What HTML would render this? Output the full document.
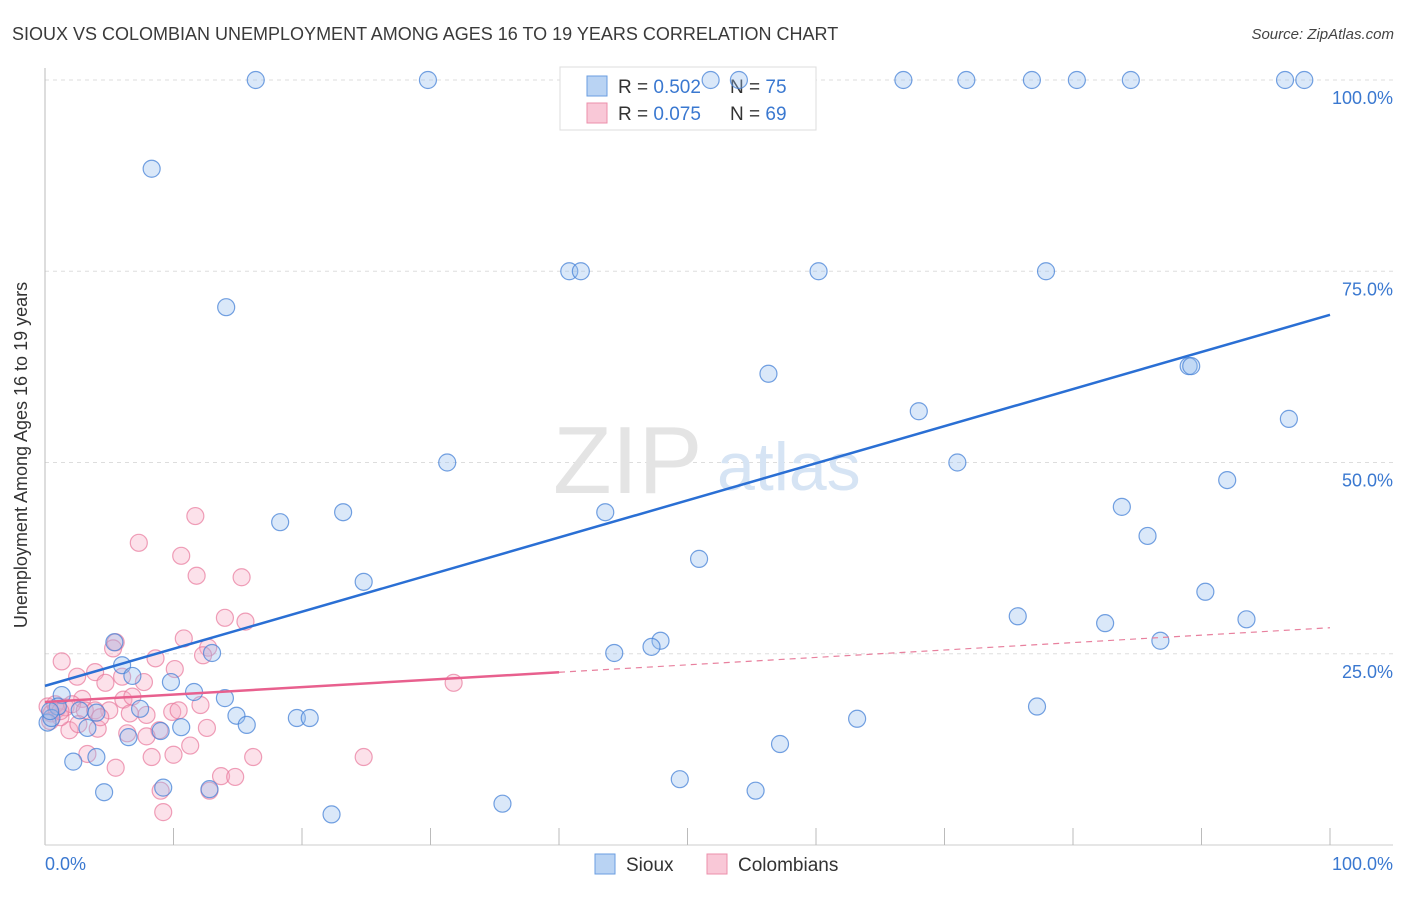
<!DOCTYPE html>
<html><head><meta charset="utf-8"><style>
body{margin:0;background:#fff;font-family:"Liberation Sans",sans-serif}
svg text{font-family:"Liberation Sans",sans-serif}
</style></head><body>
<svg width="1406" height="892" viewBox="0 0 1406 892">
<text x="12" y="40" font-size="18" fill="#3a3a3a">SIOUX VS COLOMBIAN UNEMPLOYMENT AMONG AGES 16 TO 19 YEARS CORRELATION CHART</text>
<text x="1394" y="39" font-size="15" fill="#444" font-style="italic" text-anchor="end">Source: ZipAtlas.com</text>
<g id="grid"></g>
<text x="553" y="493" font-size="96" fill="#e4e4e4" font-family="Liberation Serif">ZIP</text>
<text x="717" y="490" font-size="68" fill="#d6e4f4">atlas</text>
<line x1="45" y1="68" x2="45" y2="845" stroke="#bbb"/>
<line x1="45" y1="845" x2="1393" y2="845" stroke="#ccc"/>
<g id="ticks"></g>
<g>
<rect x="560" y="67" width="256" height="63" fill="#fff" stroke="#ddd"/>
<rect x="587" y="76" width="20" height="20" fill="#b9d3f3" stroke="#6a9ee0"/>
<rect x="587" y="103" width="20" height="20" fill="#f9c8d7" stroke="#ec8fab"/>
<text x="618" y="93" font-size="19" fill="#333">R = <tspan fill="#3a78d0">0.502</tspan></text>
<text x="730" y="93" font-size="19" fill="#333">N = <tspan fill="#3a78d0">75</tspan></text>
<text x="618" y="120" font-size="19" fill="#333">R = <tspan fill="#3a78d0">0.075</tspan></text>
<text x="730" y="120" font-size="19" fill="#333">N = <tspan fill="#3a78d0">69</tspan></text>
</g>
<g id="pts"></g>
<g id="trends"></g>
<text x="27" y="455" font-size="18" fill="#333" text-anchor="middle" transform="rotate(-90 27 455)">Unemployment Among Ages 16 to 19 years</text>
<text x="45" y="870" font-size="18" fill="#3a78d0">0.0%</text>
<text x="1393" y="870" font-size="18" fill="#3a78d0" text-anchor="end">100.0%</text>
<g>
<rect x="595" y="854" width="20" height="20" fill="#b9d3f3" stroke="#6a9ee0"/>
<text x="626" y="871" font-size="19" fill="#333">Sioux</text>
<rect x="707" y="854" width="20" height="20" fill="#f9c8d7" stroke="#ec8fab"/>
<text x="738" y="871" font-size="19" fill="#333">Colombians</text>
</g>
</svg>
<script>
const yTicks=[25,50,75,100];
const yTickLabels=["25.0%","50.0%","75.0%","100.0%"];
const xTicks=[10,20,30,40,50,60,70,80,90,100];
const siouxX=[16.4,29.8,51.8,54,66.8,71.7,76.8,80.3,84.5,96.5,98,8.3,40.8,41.7,60.2,77.9,14.1,56.3,89,89.2,68,96.8,31.3,71,92,83.8,18.3,23.2,43.6,85.8,50.9,24.8,90.3,75.7,93.5,82.5,86.8,5.4,47.9,47.2,44.3,13,6,6.8,9.8,11.6,1.3,14,1,2.7,4,7.4,14.9,15.7,19.6,20.6,10.6,9,3.3,0.2,0.5,63.2,77.2,6.5,2.2,4,57.2,9.2,12.8,4.6,49.4,55.3,35.6,22.3,0.4];
const siouxY=[100,100,100,100,100,100,100,100,100,100,100,88.4,75,75,75,75,70.3,61.6,62.6,62.6,56.7,55.7,50,50,47.7,44.2,42.2,43.5,43.5,40.4,37.4,34.4,33.1,29.9,29.5,29,26.7,26.5,26.7,25.9,25.1,25.1,23.5,22.1,21.3,20,19.6,19.2,18.1,17.6,17.3,17.8,16.9,15.7,16.6,16.6,15.4,14.9,15.3,16,16.6,16.5,18.1,14.1,10.9,11.5,13.2,7.5,7.3,6.9,8.6,7.1,5.4,4,17.5];
const colX=[11.7,7.3,10.6,11.8,15.3,14,15.6,10.8,5.5,5.3,12.7,12.3,1.3,8.6,2.5,3.9,4.7,10.1,6,7.7,2.9,6.1,6.8,12.1,5,7.9,9.9,10.4,1.9,4.1,12.6,8.9,7.9,6.4,3.3,11.3,10,8.3,5.5,16.2,24.8,13.7,14.8,9,12.8,9.2,0.2,0.5,0.9,1.2,0.4,0.8,1.6,2.1,3.1,3.9,4.3,2.6,31.8,6.6,1.2];
const colY=[43,39.5,37.8,35.2,35,29.7,29.2,27,26.5,25.7,25.8,24.8,24,24.4,22,22.6,21.2,23,22,21.3,19.1,19,19.4,18.3,17.6,17,17.4,17.6,15,15.2,15.3,15,14.2,14.6,11.9,13,11.8,11.5,10.1,11.5,11.5,9,8.9,7.1,7.1,4.3,18.1,17.2,17.7,16.7,16.2,18.4,18,18.4,17.6,17.6,16.7,15.8,21.2,17.2,17.5];
const blueTrend=[20.8,69.3];
const pinkTrend=[18.7,28.4];
const pinkSolidEnd=40;
const X=v=>45+v*12.85, Y=v=>845-v*7.65;
const NS='http://www.w3.org/2000/svg';
function mk(t,a,p){const e=document.createElementNS(NS,t);for(const k in a)e.setAttribute(k,a[k]);p.appendChild(e);return e;}
const grid=document.getElementById('grid');
yTicks.forEach((v,i)=>{
 const l=mk('line',{x1:45,x2:1393,y1:Y(v),y2:Y(v),stroke:'#ddd','stroke-dasharray':'4,4'},grid);
 
 
 const t=mk('text',{x:1393,y:Y(v)+24,'font-size':18,fill:'#3a78d0','text-anchor':'end'},grid);
 t.textContent=yTickLabels[i];
 
 
});
const tk=document.getElementById('ticks');
xTicks.forEach(v=>{const l=mk('line',{x1:X(v),x2:X(v),y1:828,y2:845,stroke:'#bbb'},tk);
 
 });
const pts=document.getElementById('pts');
colX.forEach((x,i)=>{const c=mk('circle',{cx:X(x),cy:Y(colY[i]),r:8.5,fill:'rgba(246,170,195,0.35)',stroke:'rgba(232,120,155,0.7)','stroke-width':1.2},pts);
 
 });
siouxX.forEach((x,i)=>{const c=mk('circle',{cx:X(x),cy:Y(siouxY[i]),r:8.5,fill:'rgba(150,190,238,0.35)',stroke:'rgba(70,130,215,0.75)','stroke-width':1.2},pts);
 
 });
const tr=document.getElementById('trends');
let b=mk('line',{x1:X(0),y1:Y(blueTrend[0]),x2:X(100),y2:Y(blueTrend[1]),stroke:'#2a6fd4','stroke-width':2.5},tr);


const pm=v=>pinkTrend[0]+(pinkTrend[1]-pinkTrend[0])*v/100;
let p1=mk('line',{x1:X(0),y1:Y(pm(0)),x2:X(pinkSolidEnd),y2:Y(pm(pinkSolidEnd)),stroke:'#e8608e','stroke-width':2.5},tr);


let p2=mk('line',{x1:X(pinkSolidEnd),y1:Y(pm(pinkSolidEnd)),x2:X(100),y2:Y(pm(100)),stroke:'#e8809e','stroke-width':1.2,'stroke-dasharray':'6,5'},tr);


</script>
</body></html>
